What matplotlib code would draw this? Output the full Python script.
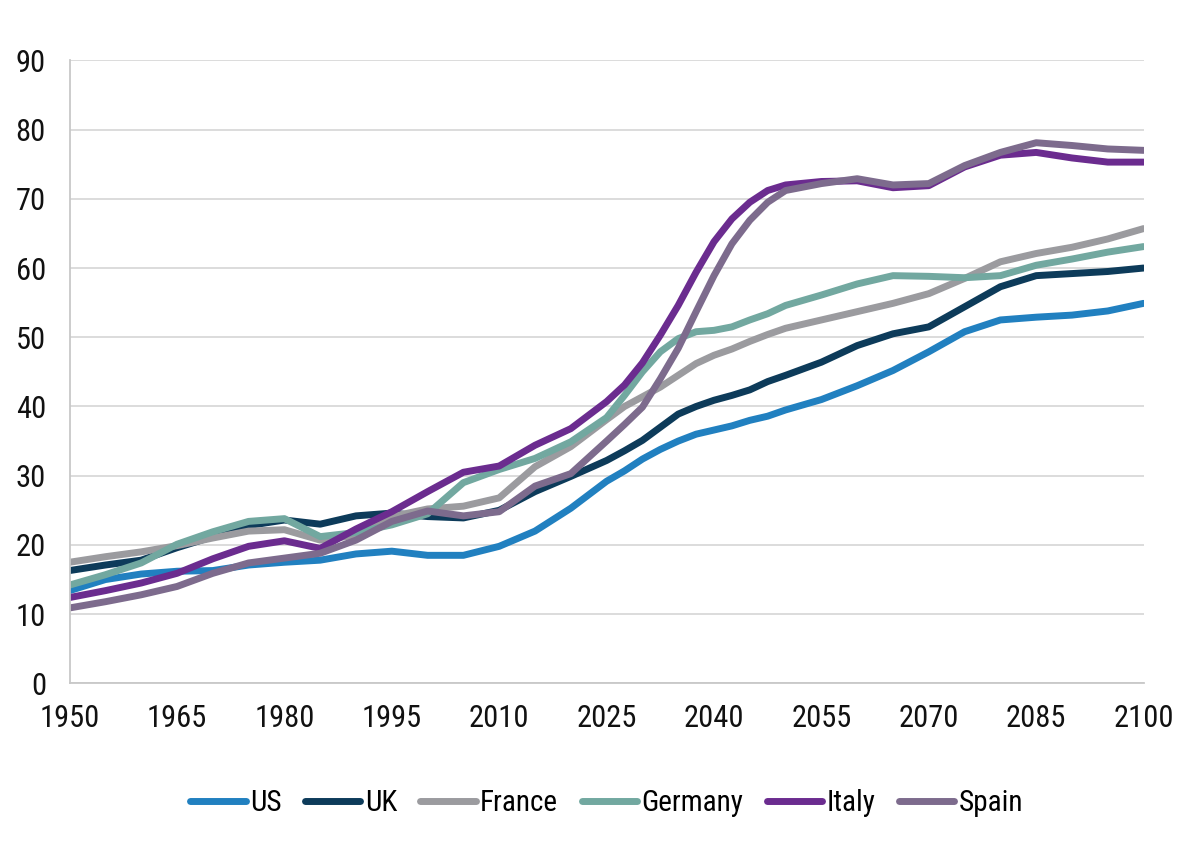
import matplotlib
matplotlib.use('Agg')
import matplotlib.pyplot as plt

years = [1950, 1955, 1960, 1965, 1970, 1975, 1980, 1985, 1990, 1995, 2000, 2005, 2010, 2015, 2020,
         2025, 2027.5, 2030, 2032.5, 2035, 2037.5, 2040, 2042.5, 2045, 2047.5, 2050,
         2055, 2060, 2065, 2070, 2075, 2080, 2085, 2090, 2095, 2100]

us = [13.4, 15.0, 15.8, 16.2, 16.3, 17.1, 17.5, 17.8, 18.7, 19.1, 18.5, 18.5, 19.8, 22.0, 25.3,
      29.2, 30.7, 32.4, 33.8, 35.0, 36.0, 36.6, 37.2, 38.0, 38.6, 39.5,
      41.0, 43.0, 45.2, 47.9, 50.8, 52.5, 52.9, 53.2, 53.8, 54.9]
uk = [16.3, 17.1, 17.8, 19.6, 21.2, 22.8, 23.6, 23.0, 24.2, 24.6, 24.1, 23.9, 25.0, 27.7, 29.9,
      32.2, 33.6, 35.1, 37.0, 38.9, 40.0, 40.9, 41.6, 42.4, 43.6, 44.5,
      46.4, 48.8, 50.5, 51.5, 54.4, 57.3, 58.9, 59.2, 59.5, 60.0]
france = [17.5, 18.3, 19.0, 19.9, 21.0, 22.0, 22.2, 20.7, 21.4, 24.1, 25.2, 25.6, 26.8, 31.3, 34.2,
          38.1, 40.0, 41.4, 42.8, 44.5, 46.2, 47.4, 48.3, 49.4, 50.4, 51.3,
          52.5, 53.7, 54.9, 56.3, 58.5, 60.9, 62.1, 63.0, 64.2, 65.7]
germany = [14.2, 15.7, 17.4, 20.1, 21.9, 23.4, 23.8, 21.2, 21.8, 22.9, 24.5, 29.0, 30.9, 32.5, 34.9,
           38.4, 41.6, 45.0, 47.9, 49.8, 50.8, 51.0, 51.5, 52.5, 53.4, 54.6,
           56.1, 57.7, 58.9, 58.8, 58.6, 58.9, 60.4, 61.3, 62.3, 63.1]
italy = [12.4, 13.4, 14.5, 15.9, 18.0, 19.8, 20.6, 19.5, 22.3, 24.8, 27.7, 30.5, 31.4, 34.4, 36.8,
         40.7, 43.1, 46.3, 50.3, 54.6, 59.4, 63.8, 67.1, 69.5, 71.2, 72.0,
         72.5, 72.6, 71.6, 71.9, 74.6, 76.3, 76.7, 75.9, 75.3, 75.3]
spain = [10.9, 11.8, 12.8, 14.0, 15.9, 17.4, 18.1, 18.8, 20.7, 23.4, 24.9, 24.2, 24.8, 28.5, 30.3,
         35.0, 37.4, 39.9, 44.0, 48.4, 53.7, 58.9, 63.5, 66.9, 69.5, 71.2,
         72.2, 72.9, 72.0, 72.2, 74.8, 76.7, 78.1, 77.7, 77.2, 77.0]

names = ['US', 'UK', 'France', 'Germany', 'Italy', 'Spain']
colors = ['#2180C0', '#0D3B5A', '#9B9B9F', '#72A8A0', '#6B2C8F', '#7D6B8D']
xticks = [1950, 1965, 1980, 1995, 2010, 2025, 2040, 2055, 2070, 2085, 2100]

plt.rcParams['font.family'] = ['Roboto Condensed', 'Liberation Sans Narrow', 'Roboto', 'DejaVu Sans']

fig = plt.figure(figsize=(12, 8.5), dpi=100)
ax = fig.add_axes([0.058, 0.196, 0.895, 0.733])

for vals, name, c in zip([us, uk, france, germany, italy, spain], names, colors):
    ax.plot(years, vals, color=c, lw=5, label=name, solid_capstyle='round', solid_joinstyle='round')

ax.set_xlim(1950, 2100)
ax.set_ylim(0, 90)
ax.set_xticks(xticks)
ax.set_yticks(range(0, 91, 10))
ax.grid(axis='y', color='#D9D9D9', lw=1.3)
ax.set_axisbelow(True)
for s in ['top', 'right']:
    ax.spines[s].set_visible(False)
for s in ['left', 'bottom']:
    ax.spines[s].set_color('#C8C8C8')
    ax.spines[s].set_linewidth(1.3)
ax.tick_params(axis='both', length=0, labelsize=22, colors='#111111')
ax.tick_params(axis='y', pad=17)
ax.tick_params(axis='x', pad=15)

ax.legend(loc='center', bbox_to_anchor=(0.5, -0.192), ncol=6, frameon=False, fontsize=21,
          handlelength=1.9, handletextpad=0.15, columnspacing=0.8)

fig.savefig('out.png', dpi=100)
